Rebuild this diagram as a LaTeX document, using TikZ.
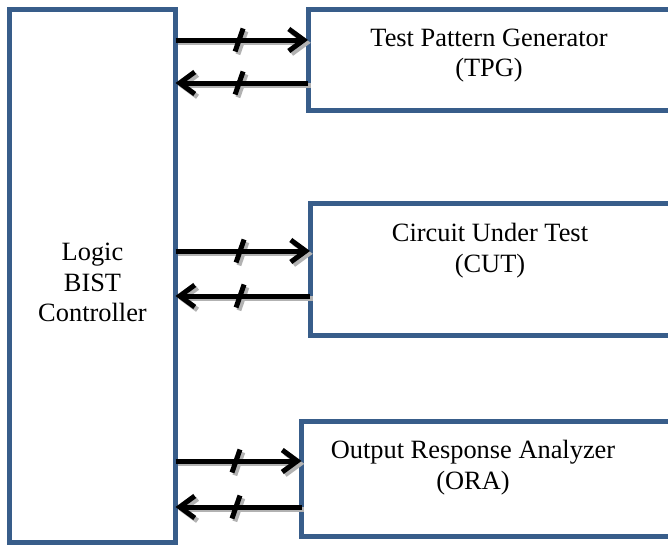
\documentclass[tikz,border=0pt]{standalone}
\usepackage{fontspec}
\setmainfont{Liberation Serif}
\usetikzlibrary{arrows.meta, positioning, calc}

\definecolor{boxblue}{RGB}{56,93,138}

\begin{document}
\begin{tikzpicture}[x=0.5pt, y=-0.5pt,
      block/.style={rectangle, draw=boxblue, line width=2.5pt, outer sep=0pt, inner sep=0pt},
      txt/.style={align=center, inner sep=0pt, font=\fontsize{13.2}{15.2}\selectfont},
      wire/.style={line width=2.5pt},
      bus/.style={wire, -{Straight Barb[length=7.5pt, width=11pt]}}]

      \path[use as bounding box, clip] (0,0) rectangle (668,546);

      % Blocks
      \node[block, minimum width=83pt, minimum height=266.25pt] (ctrl) at (92.5,275.75) {};
      \node[block, minimum width=181pt, minimum height=50.25pt] (tpg) at (489,59.75) {};
      \node[block, minimum width=180pt, minimum height=66pt] (cut) at (490,269) {};
      \node[block, minimum width=184.25pt, minimum height=57.25pt] (ora) at (485.75,478.75) {};

      % Labels
      \node[txt] (ctrltext) at ($(ctrl.center)+(0,7)$) {Logic\\BIST\\Controller};
      \node[txt] (tpgtext) at ($(tpg.north)+(0,46)$) {Test Pattern Generator\\(TPG)};
      \node[txt] (cuttext) at ($(cut.north)+(0,47.5)$) {Circuit Under Test\\(CUT)};
      \node[txt] (oratext) at ($(ora.north)+(-12.75,46)$) {Output Response Analyzer\\(ORA)};

      % Buses to and from each block, gray copy first as shadow
      \foreach \col/\sh in {gray!60/1.4pt, black/0pt} {
        \begin{scope}[transform canvas={shift={(\sh,-\sh)}}, draw=\col]
          \foreach \blk/\yo/\yi in {tpg/40/83, cut/251/296, ora/461/507} {
            \draw[bus] (ctrl.east |- 0,\yo) -- coordinate[pos=0.48] (m) (\blk.west |- 0,\yo);
            \draw[wire] ($(m)+(4,-11.5)$) -- ($(m)+(-4,11.5)$);
            \draw[bus] (\blk.west |- 0,\yi) -- coordinate[pos=0.52] (n) (ctrl.east |- 0,\yi);
            \draw[wire] ($(n)+(4,-11.5)$) -- ($(n)+(-4,11.5)$);
          }
        \end{scope}
      }
    \end{tikzpicture}
\end{document}
